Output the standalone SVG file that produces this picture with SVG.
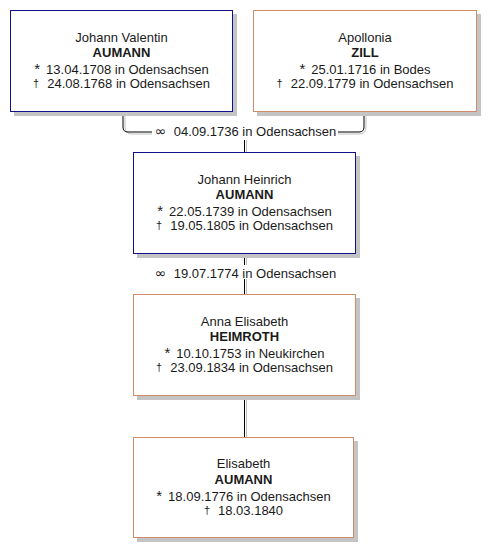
<svg xmlns="http://www.w3.org/2000/svg" width="496" height="558" viewBox="0 0 496 558">
<style>
.sh{fill:#c4c4c4}
.m{fill:#fff;stroke:#10108a;stroke-width:1}
.f{fill:#fff;stroke:#d08c66;stroke-width:1}
text{font-family:"Liberation Sans",Arial,sans-serif;font-size:13px;fill:#1a1a1a;text-anchor:middle}
.b{font-weight:bold}
.ln{fill:none;stroke:#000;stroke-width:1}
.ls{fill:none;stroke:#c0c0c0;stroke-width:1}
.ring{font-family:"DejaVu Sans",sans-serif;font-size:14px}
.st{font-size:15px}
.dg{font-size:11px}
</style>
<rect width="496" height="558" fill="#fff"/>
<g id="connectors">
<path class="ls" d="M125 112 V127 Q125 134 132 134 H152"/>
<path class="ln" d="M123 112 V127 Q123 132 128 132 H152"/>
<path class="ls" d="M366 112 V127 Q366 134 359 134 H338"/>
<path class="ln" d="M364 112 V127 Q364 132 359 132 H338"/>
<path class="ls" d="M246.5 140 V152 M246.5 254 V265 M246.5 279 V294 M246.5 396 V437"/>
<path class="ln" d="M244.5 140 V152 M244.5 254 V265 M244.5 279 V294 M244.5 396 V437"/>
<text x="160.5" y="136" class="ring">∞</text>
<text x="255" y="136">04.09.1736 in Odensachsen</text>
<text x="160.5" y="278" class="ring">∞</text>
<text x="255" y="278">19.07.1774 in Odensachsen</text>
</g>
<g id="p1">
<rect class="sh" x="14" y="14" width="223" height="102"/>
<rect class="m" x="10.5" y="10.5" width="222" height="101"/>
<text x="121.5" y="42">Johann Valentin</text>
<text x="121.5" y="57" class="b">AUMANN</text>
<text x="121.5" y="74"><tspan class="st">*</tspan><tspan dx="6">13.04.1708 in Odensachsen</tspan></text>
<text x="121.5" y="88"><tspan class="dg" dy="-1">†</tspan><tspan dx="8" dy="1">24.08.1768 in Odensachsen</tspan></text>
</g>
<g id="p2">
<rect class="sh" x="257" y="14" width="224" height="102"/>
<rect class="f" x="253.5" y="10.5" width="223" height="101"/>
<text x="365" y="42">Apollonia</text>
<text x="365" y="57" class="b">ZILL</text>
<text x="365" y="74"><tspan class="st">*</tspan><tspan dx="6">25.01.1716 in Bodes</tspan></text>
<text x="365" y="88"><tspan class="dg" dy="-1">†</tspan><tspan dx="8" dy="1">22.09.1779 in Odensachsen</tspan></text>
</g>
<g id="p3">
<rect class="sh" x="137" y="156" width="223" height="102"/>
<rect class="m" x="133.5" y="152.5" width="222" height="101"/>
<text x="244.5" y="184">Johann Heinrich</text>
<text x="244.5" y="199" class="b">AUMANN</text>
<text x="244.5" y="216"><tspan class="st">*</tspan><tspan dx="6">22.05.1739 in Odensachsen</tspan></text>
<text x="244.5" y="230"><tspan class="dg" dy="-1">†</tspan><tspan dx="8" dy="1">19.05.1805 in Odensachsen</tspan></text>
</g>
<g id="p4">
<rect class="sh" x="137" y="298" width="223" height="102"/>
<rect class="f" x="133.5" y="294.5" width="222" height="101"/>
<text x="244.5" y="326">Anna Elisabeth</text>
<text x="244.5" y="341" class="b">HEIMROTH</text>
<text x="244.5" y="358"><tspan class="st">*</tspan><tspan dx="6">10.10.1753 in Neukirchen</tspan></text>
<text x="244.5" y="372"><tspan class="dg" dy="-1">†</tspan><tspan dx="8" dy="1">23.09.1834 in Odensachsen</tspan></text>
</g>
<g id="p5">
<rect class="sh" x="137" y="441" width="221" height="101"/>
<rect class="f" x="133.5" y="437.5" width="220" height="100"/>
<text x="243.5" y="468">Elisabeth</text>
<text x="243.5" y="484" class="b">AUMANN</text>
<text x="243.5" y="501"><tspan class="st">*</tspan><tspan dx="6">18.09.1776 in Odensachsen</tspan></text>
<text x="243.5" y="515"><tspan class="dg" dy="-1">†</tspan><tspan dx="8" dy="1">18.03.1840</tspan></text>
</g>
</svg>
